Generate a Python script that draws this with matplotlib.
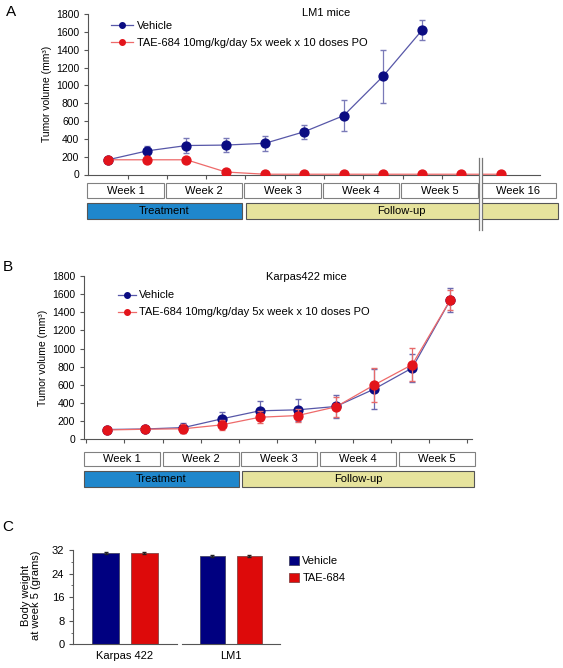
import numpy as np
import matplotlib
matplotlib.use("Agg")
import matplotlib.pyplot as plt
from matplotlib.patches import Rectangle
from matplotlib.lines import Line2D
from matplotlib.transforms import blended_transform_factory

plt.rcParams['font.family'] = ['Liberation Sans', 'DejaVu Sans']

W, H = 563, 668

# ---- data ----
# panel A: LM1 mice, tumor volume (mm3)
lm1_vehicle = [165, 265, 325, 330, 350, 480, 660, 1100, 1620]
lm1_vehicle_err = [0, 55, 80, 80, 85, 80, 170, 300, 110]
lm1_tae = [165, 165, 165, 28, 3, 3, 3, 3, 3, 3, 3]
lm1_weeks = ['Week 1', 'Week 2', 'Week 3', 'Week 4', 'Week 5', 'Week 16']

# panel B: Karpas422 mice, tumor volume (mm3)
kar_vehicle = [108, 114, 129, 225, 314, 325, 362, 553, 786, 1535]
kar_vehicle_err = [0, 10, 55, 81, 103, 118, 125, 220, 155, 130]
kar_tae = [103, 111, 116, 159, 243, 262, 358, 598, 823, 1535]
kar_tae_err = [0, 10, 50, 56, 65, 70, 110, 190, 180, 110]
kar_weeks = ['Week 1', 'Week 2', 'Week 3', 'Week 4', 'Week 5']

# panel C: body weight at week 5 (grams)
groups = ['Karpas 422', 'LM1']
weight_vehicle = [31.1, 30.0]
weight_vehicle_err = [0.35, 0.4]
weight_tae = [31.1, 29.9]
weight_tae_err = [0.35, 0.35]

lab_vehicle = 'Vehicle'
lab_tae = 'TAE-684 10mg/kg/day 5x week x 10 doses PO'

NAVY = '#0b0c82'
NAVY_LINE = '#5757a8'
RED = '#e3141b'
RED_LINE = '#ee6a6a'
TREAT = '#1f87cc'
FOLLOW = '#e6e39d'
GRAY = '#808080'

fig = plt.figure(figsize=(W / 100, H / 100), dpi=100)


def px_axes(x0, y0, x1, y1):
    return fig.add_axes([x0 / W, 1 - y1 / H, (x1 - x0) / W, (y1 - y0) / H])


def fy(y):
    return 1 - y / H


def style_axes(ax):
    for s in ['top', 'right']:
        ax.spines[s].set_visible(False)
    for s in ['left', 'bottom']:
        ax.spines[s].set_color('#555555')
        ax.spines[s].set_linewidth(0.8)
    ax.tick_params(colors='#555555', labelcolor='black', labelsize=7.5,
                   length=3, width=0.8)


def week_boxes(ax, labels, start, step, width, y0, y1):
    tr = blended_transform_factory(ax.transData, fig.transFigure)
    for k, lab in enumerate(labels):
        x = start + step * k
        ax.add_patch(Rectangle((x, fy(y1)), width, fy(y0) - fy(y1), transform=tr,
                               facecolor='white', edgecolor=GRAY, lw=0.8, clip_on=False))
        ax.text(x + width / 2, fy((y0 + y1) / 2), lab, transform=tr, ha='center',
                va='center', fontsize=8)


def phase_bars(ax, t0, t1, f0, f1, y0, y1):
    tr = blended_transform_factory(ax.transData, fig.transFigure)
    for a, b, col, lab in [(t0, t1, TREAT, 'Treatment'), (f0, f1, FOLLOW, 'Follow-up')]:
        ax.add_patch(Rectangle((a, fy(y1)), b - a, fy(y0) - fy(y1), transform=tr,
                               facecolor=col, edgecolor='#555555', lw=0.8, clip_on=False))
        ax.text((a + b) / 2, fy((y0 + y1) / 2), lab, transform=tr, ha='center',
                va='center', fontsize=8)


def line_legend(ax, x0, y0, hlen):
    handles = [Line2D([], [], color=NAVY_LINE, lw=0.9, marker='o', ms=4, mfc=NAVY, mec=NAVY),
               Line2D([], [], color=RED_LINE, lw=0.9, marker='o', ms=4, mfc=RED, mec=RED)]
    ax.legend(handles, [lab_vehicle, lab_tae], loc='upper left',
              bbox_to_anchor=(x0 / W, fy(y0)), bbox_transform=fig.transFigure,
              frameon=False, fontsize=8, borderpad=0, borderaxespad=0,
              handlelength=hlen, handletextpad=0.3, labelspacing=0.62)


# ================= panel A =================
axA = px_axes(88.3, 14, 540, 174.5)
style_axes(axA)
xa_v = np.arange(len(lm1_vehicle))
xa_t = np.arange(len(lm1_tae))
axA.errorbar(xa_v, lm1_vehicle, yerr=lm1_vehicle_err, color=NAVY_LINE, lw=0.9,
             ecolor='#7a7ab8', elinewidth=0.9, capsize=2.2, marker='o', ms=6.4,
             mfc=NAVY, mec=NAVY, zorder=3)
axA.plot(xa_t, lm1_tae, color=RED_LINE, lw=0.9, marker='o', ms=6.4, mfc=RED,
         mec=RED, zorder=4)
axA.set_xlim(-0.5, 11)
axA.set_ylim(0, 1800)
axA.set_yticks(np.arange(0, 1801, 200))
axA.set_xticks(np.arange(0.5, 9, 1))
axA.set_xticklabels([])
axA.set_ylabel('Tumor volume (mm³)', fontsize=7.5, labelpad=3)
axA.text(326 / W, fy(12.5), 'LM1 mice', transform=fig.transFigure, ha='center',
         va='center', fontsize=8)
line_legend(axA, 111, 21, 2.0)
week_boxes(axA, lm1_weeks, -0.53, 2.0, 1.95, 183, 198)
phase_bars(axA, -0.54, 3.41, 3.51, 11.45, 203.3, 219)

# axis break
trA = blended_transform_factory(axA.transData, fig.transFigure)
bx0, bx1 = 9.437, 9.521
axA.add_patch(Rectangle((bx0, fy(229.5)), bx1 - bx0, fy(158) - fy(229.5), transform=trA,
                        facecolor='white', edgecolor='none', clip_on=False, zorder=6))
for bx in (bx0, bx1):
    axA.add_line(Line2D([bx, bx], [fy(158), fy(229.5)], transform=trA, color='#777777',
                        lw=0.9, clip_on=False, zorder=7))

fig.text(11 / W, fy(12), 'A', ha='center', va='center', fontsize=11)

# ================= panel B =================
axB = px_axes(84, 276, 472, 439.3)
style_axes(axB)
xb = np.arange(len(kar_vehicle))
axB.errorbar(xb, kar_vehicle, yerr=kar_vehicle_err, color=NAVY_LINE, lw=0.9,
             ecolor='#6a6ab0', elinewidth=0.9, capsize=2.2, marker='o', ms=6.4,
             mfc=NAVY, mec=NAVY, zorder=3)
axB.errorbar(xb, kar_tae, yerr=kar_tae_err, color=RED_LINE, lw=0.9,
             ecolor='#e66a6a', elinewidth=0.9, capsize=2.2, marker='o', ms=6.4,
             mfc=RED, mec=RED, zorder=4)
axB.set_xlim(-0.61, 9.57)
axB.set_ylim(0, 1800)
axB.set_yticks(np.arange(0, 1801, 200))
axB.set_xticks(np.arange(-0.55, 9.6, 1))
axB.set_xticklabels([])
axB.set_ylabel('Tumor volume (mm³)', fontsize=7.5, labelpad=3)
axB.text(306 / W, fy(277.5), 'Karpas422 mice', transform=fig.transFigure, ha='center',
         va='center', fontsize=8)
line_legend(axB, 118, 290.5, 1.6)
week_boxes(axB, kar_weeks, -0.61, 2.065, 1.99, 451.7, 466)
phase_bars(axB, -0.61, 3.46, 3.54, 9.62, 471, 486.7)

fig.text(8 / W, fy(267), 'B', ha='center', va='center', fontsize=11)

# ================= panel C =================
axC1 = px_axes(73.3, 550, 176.7, 644.3)
axC2 = px_axes(181.7, 550, 280, 644.3)
for i, ax in enumerate([axC1, axC2]):
    style_axes(ax)
    ax.bar([0], [weight_vehicle[i]], width=0.685, color='#000080', edgecolor='#444466',
           lw=0.6, yerr=[weight_vehicle_err[i]], capsize=1.5,
           error_kw=dict(elinewidth=0.8, ecolor='#222222'), label='Vehicle')
    ax.bar([1], [weight_tae[i]], width=0.685, color='#dd0a0a', edgecolor='#884444',
           lw=0.6, yerr=[weight_tae_err[i]], capsize=1.5,
           error_kw=dict(elinewidth=0.8, ecolor='#222222'), label='TAE-684')
    ax.set_xlim(-0.83, 1.83)
    ax.set_ylim(0, 32)
    ax.set_xticks([0.5])
    ax.set_xticklabels([groups[i]], fontsize=8)
    ax.tick_params(axis='x', length=0, pad=5)
axC1.set_yticks([0, 8, 16, 24, 32])
axC1.set_yticks([4, 12, 20, 28], minor=True)
axC1.tick_params(axis='y', which='minor', length=1.5, width=0.6, colors='#555555')
axC1.tick_params(axis='y', labelsize=8)
axC2.spines['left'].set_visible(False)
axC2.set_yticks([])
fig.text(31 / W, fy(595), 'Body weight\nat week 5 (grams)', rotation=90, ha='center',
         va='center', fontsize=8, linespacing=0.95)
handles, labels = axC1.get_legend_handles_labels()
fig.legend(handles, labels, loc='upper left', bbox_to_anchor=(289 / W, fy(556)),
           frameon=False, fontsize=8, borderpad=0, borderaxespad=0,
           handlelength=0.9, handleheight=0.9, handletextpad=0.3, labelspacing=0.55)

fig.text(8 / W, fy(527), 'C', ha='center', va='center', fontsize=11)

fig.savefig('out.png', dpi=100)
